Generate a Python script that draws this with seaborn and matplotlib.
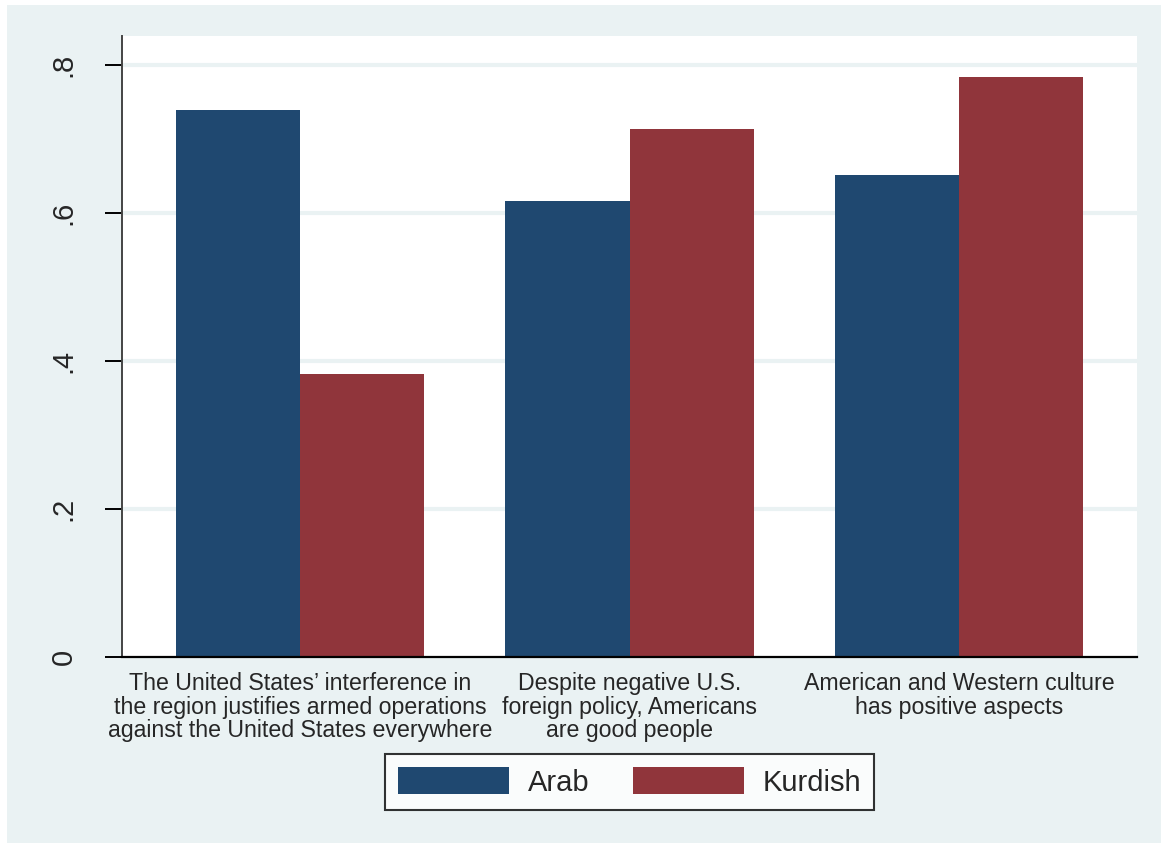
import numpy as np
import pandas as pd
import matplotlib
matplotlib.use("Agg")
import matplotlib.pyplot as plt
from matplotlib.patches import Rectangle
import seaborn as sns

# data
statements = [
    "The United States\u2019 interference in\nthe region justifies armed operations\nagainst the United States everywhere",
    "Despite negative U.S.\nforeign policy, Americans\nare good people",
    "American and Western culture\nhas positive aspects",
]
arab = [0.739, 0.616, 0.651]
kurdish = [0.382, 0.714, 0.784]
groups = ["Arab", "Kurdish"]
yticks = [0, 0.2, 0.4, 0.6, 0.8]
ytick_labels = ["0", ".2", ".4", ".6", ".8"]

df = pd.DataFrame({
    "statement": statements * 2,
    "share": arab + kurdish,
    "group": ["Arab"] * 3 + ["Kurdish"] * 3,
})

bg = "#EAF2F3"
navy = "#1F4870"
maroon = "#90353B"

sns.set_style("white")
plt.rcParams["font.family"] = ["Liberation Sans", "DejaVu Sans"]

fig = plt.figure(figsize=(11.61, 8.43), dpi=100, facecolor="white")
fig.patches.append(Rectangle((7 / 1161, 0), 1 - 7 / 1161, 1 - 5 / 843,
                             transform=fig.transFigure, facecolor=bg,
                             edgecolor="none", zorder=-10))
ax = fig.add_axes([122 / 1161, 1 - 657 / 843, (1137 - 122) / 1161, (657 - 36) / 843])
ax.set_facecolor("white")

sns.barplot(data=df, x="statement", y="share", hue="group", order=statements,
            hue_order=groups, palette=[navy, maroon], width=0.753,
            saturation=1, ax=ax, legend=False, linewidth=0)

ax.set_xlim(-0.540, 2.540)
ax.set_ylim(0, 0.839)
ax.set_yticks(yticks)
ax.set_yticklabels(ytick_labels, rotation=90, va="center", fontsize=21)
ax.tick_params(axis="y", length=12, width=1.4, color="black", left=True, pad=20)
ax.tick_params(axis="x", length=0, pad=11, labelsize=16.7)
for lab in ax.get_xticklabels():
    lab.set_linespacing(1.02)

for y in yticks[1:]:
    ax.axhline(y, color=bg, lw=3, zorder=0)

for side in ["top", "right"]:
    ax.spines[side].set_visible(False)
ax.spines["left"].set_color("#444444")
ax.spines["left"].set_linewidth(1.4)
ax.spines["bottom"].set_color("black")
ax.spines["bottom"].set_linewidth(1.6)
ax.set_xlabel("")
ax.set_ylabel("")

handles = [Rectangle((0, 0), 1, 1, facecolor=c, edgecolor="none") for c in [navy, maroon]]
leg = fig.legend(handles, groups, loc="center", bbox_to_anchor=(629.5 / 1161, 1 - 782 / 843),
                 ncol=2, fontsize=21, frameon=True, fancybox=False,
                 handlelength=3.8, handleheight=1.05, handletextpad=0.65,
                 columnspacing=1.5, borderpad=0.45, borderaxespad=0)
leg.get_frame().set_edgecolor("black")
leg.get_frame().set_linewidth(1.5)
leg.get_frame().set_facecolor("white")

fig.savefig("out.png", dpi=100, facecolor=fig.get_facecolor())
